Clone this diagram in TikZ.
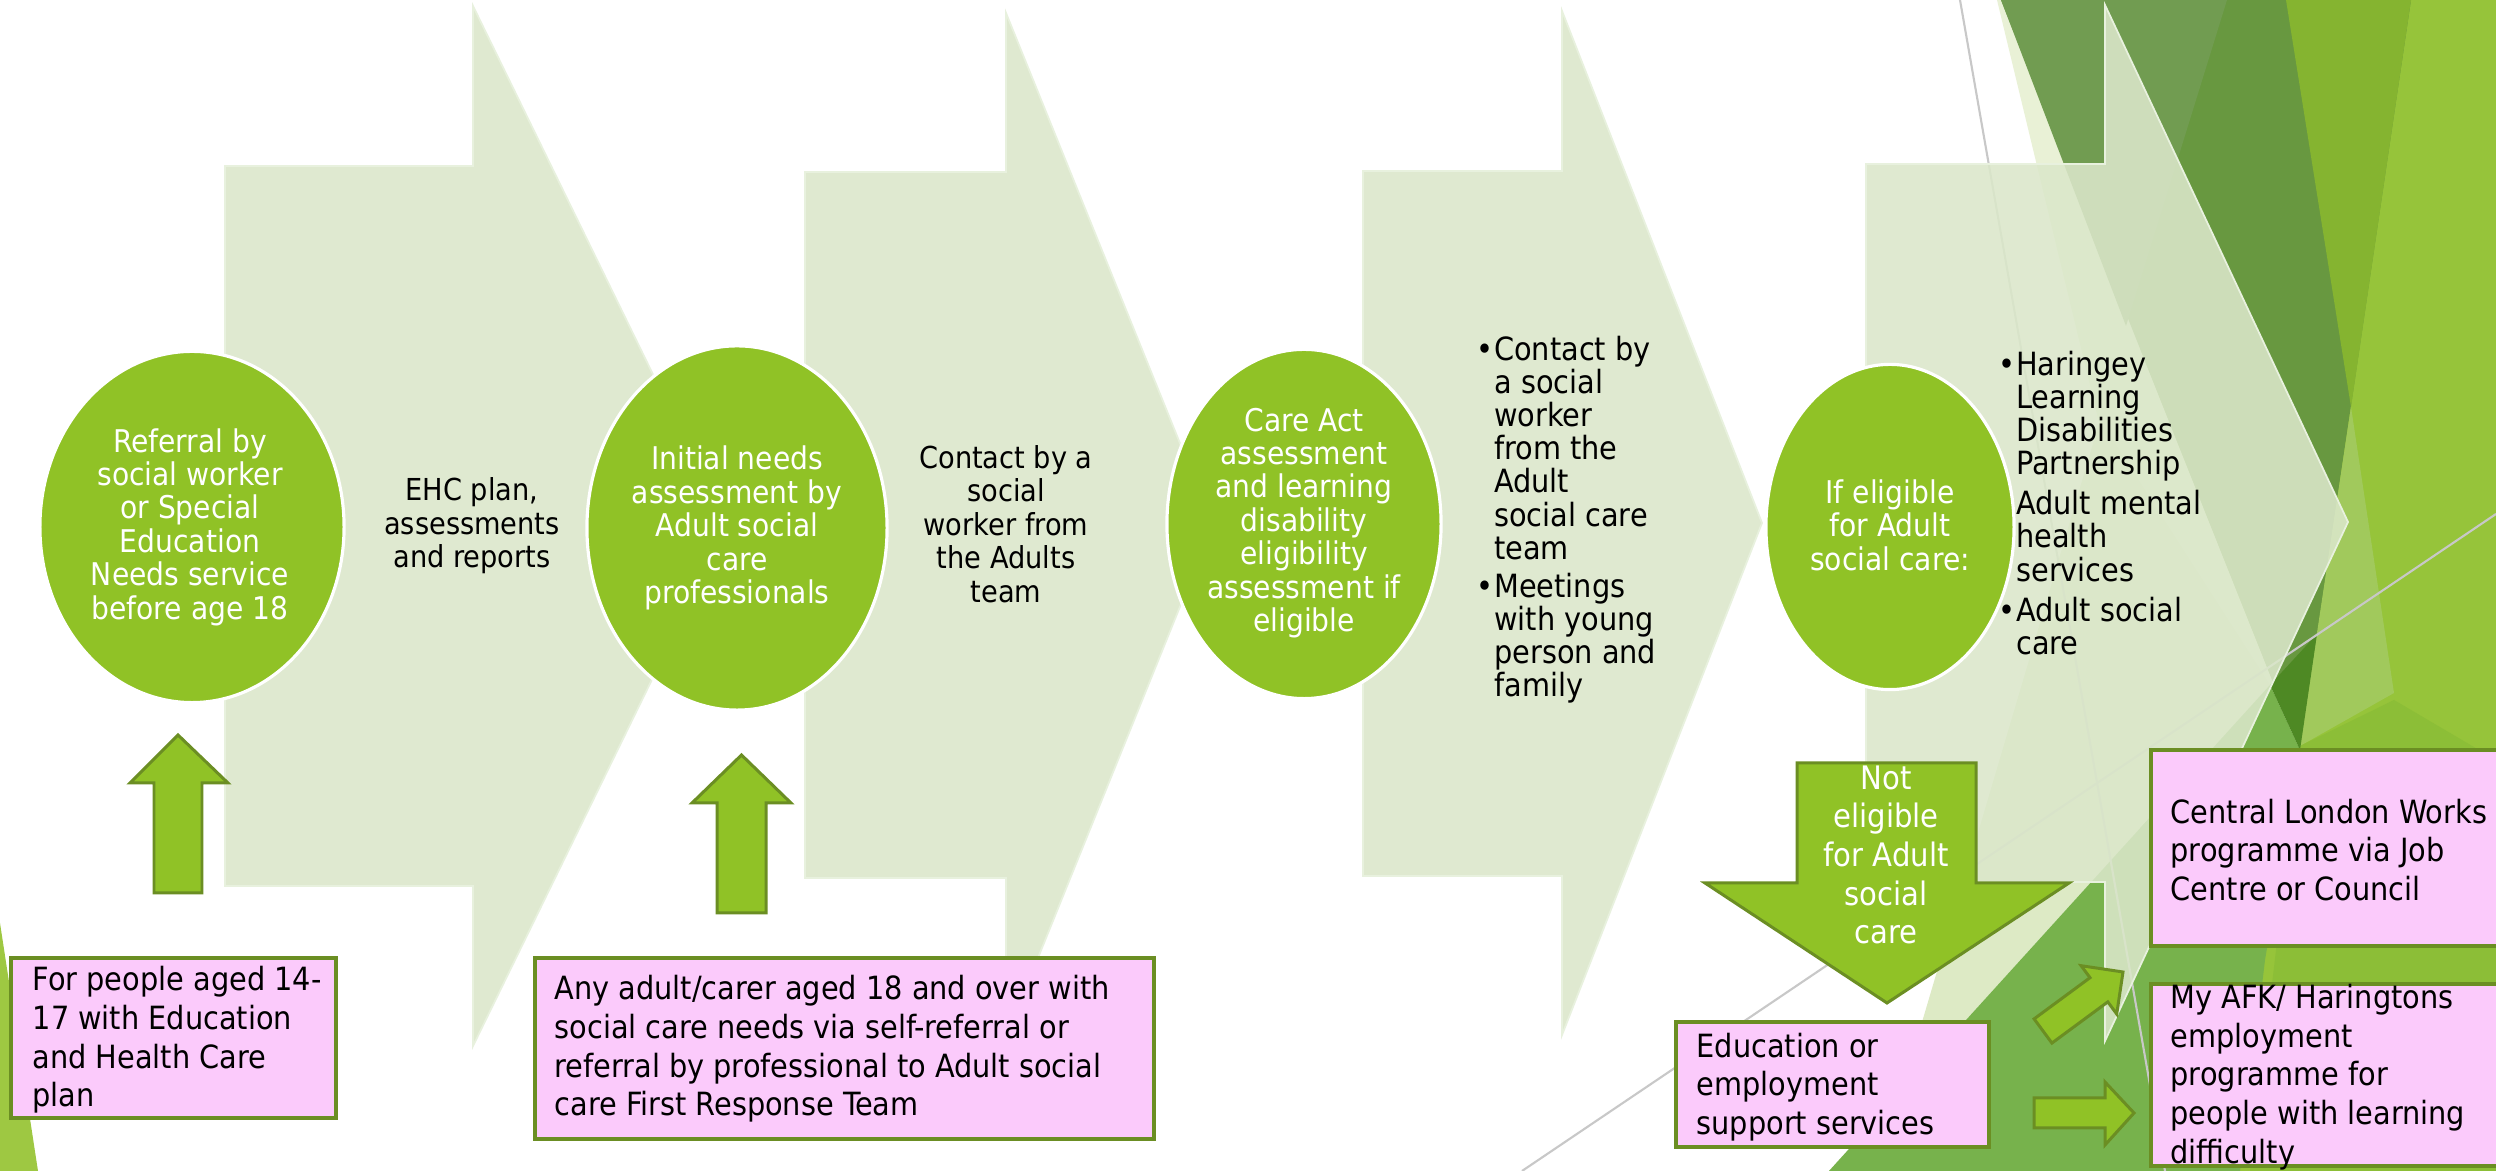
\documentclass[tikz,border=0pt]{standalone}
\usepackage{fontspec}
\setmainfont{DejaVu Sans Condensed}
\usetikzlibrary{shapes.geometric}
\definecolor{chev}{RGB}{219,231,202}
\definecolor{chevedge}{RGB}{232,241,222}
\definecolor{ellfill}{RGB}{144,194,38}
\definecolor{olive}{RGB}{107,142,35}
\definecolor{pinkfill}{RGB}{251,202,251}
\definecolor{fbright}{RGB}{150,196,58}
\definecolor{fb2}{RGB}{133,180,48}
\definecolor{fdark}{RGB}{104,152,64}
\definecolor{fmuted}{RGB}{113,156,81}
\definecolor{flight}{RGB}{161,201,92}
\definecolor{fyg}{RGB}{140,190,55}
\definecolor{fgreen}{RGB}{119,178,76}
\definecolor{fdeep}{RGB}{78,137,36}
\definecolor{fcream}{RGB}{233,241,214}
\definecolor{fpale}{RGB}{221,234,197}
\definecolor{fleft}{RGB}{158,200,66}
\definecolor{thinline}{RGB}{200,200,200}
\tikzset{
  chevron/.style={fill=chev, fill opacity=0.88, draw=chevedge, line width=0.5pt},
  ell/.style={ellipse, fill=ellfill, draw=white, line width=0.9pt, inner sep=0pt},
  ellt/.style={text=white, align=center, inner sep=0pt, font=\fontsize{8.9}{9.5}\selectfont},
  arrt/.style={text=black, align=center, inner sep=0pt, font=\fontsize{8.6}{9.5}\selectfont},
  listt/.style={text=black, align=left, inner sep=0pt, font=\fontsize{9.1}{9.4}\selectfont},
  blockarrow/.style={fill=ellfill, draw=olive, line width=0.85pt, line join=miter},
  pinkbox/.style={rectangle, fill=pinkfill, draw=olive, line width=1.1pt, inner sep=0pt},
  boxt/.style={text=black, align=left, inner sep=0pt, font=\fontsize{9.1}{11}\selectfont},
  downt/.style={text=white, align=center, inner sep=0pt, font=\fontsize{9.2}{11}\selectfont},
  thin/.style={draw=thinline, line width=0.6pt}
}
\newcommand{\bul}{\makebox[5pt][l]{\textbullet}}
\newcommand{\ind}{\hspace*{5pt}}
\begin{document}
\begin{tikzpicture}[x=0.01cm,y=-0.01cm]
\useasboundingbox (0,0) rectangle (2496,1171);
\clip (0,0) rectangle (2496,1171);
\fill[white] (0,0) rectangle (2496,1171);

% ---- background facets ----
\fill[fleft] (0,923) -- (38,1171) -- (0,1171) -- cycle;
\fill[fbright] (2140,0) -- (2496,0) -- (2496,1171) -- (2140,1171) -- cycle;
\fill[fcream] (1997,0) -- (2001,0) -- (2300,750) -- (2190,800) -- cycle;
\fill[fpale] (1878,1171) -- (2100,420) -- (2270,685) -- (1829,1171) -- cycle;
\fill[fdark] (2001,0) -- (2411,0) -- (2300,750) -- cycle;
\fill[fmuted] (2001,0) -- (2227,0) -- (2126,326) -- cycle;
\fill[fb2] (2286,0) -- (2411,0) -- (2351,407) -- cycle;
\fill[flight] (2351,407) -- (2394,693) -- (2300,746) -- cycle;
\fill[fyg] (2300,746) -- (2394,700) -- (2496,760) -- (2496,1171) -- (2250,1171) -- cycle;
\fill[fgreen] (1829,1171) -- (2270,685) -- (2300,750) -- (2265,960) -- (2240,1171) -- cycle;
\fill[fdeep] (2270,685) -- (2317,634) -- (2300,750) -- cycle;
\draw[thin] (1960,0) -- (2165,1171);
\draw[thin] (1522,1171) -- (2496,514);

% ---- chevrons ----
\path[chevron] (225,166) -- (473,166) -- (473,6) -- (727,526) -- (473,1046) -- (473,886) -- (225,886) -- cycle;
\path[chevron] (805,172) -- (1006,172) -- (1006,13) -- (1213,525) -- (1006,1037) -- (1006,878) -- (805,878) -- cycle;
\path[chevron] (1363,171) -- (1562,171) -- (1562,11) -- (1762,523) -- (1562,1035) -- (1562,876) -- (1363,876) -- cycle;
\path[chevron] (1866,164) -- (2105,164) -- (2105,5) -- (2348,522) -- (2105,1041) -- (2105,882) -- (1866,882) -- cycle;

% ---- chevron texts ----
\node[arrt] (t1) at (472,526) {EHC plan,\\assessments\\and reports};
\node[arrt] (t2) at (1006,524) {Contact by a\\social\\worker from\\the Adults\\team};
\node[listt, anchor=west] (t3) at (1476,520) {\bul Contact by\\\ind a social\\\ind worker\\\ind from the\\\ind Adult\\\ind social care\\\ind team\\[1.6pt]\bul Meetings\\\ind with young\\\ind person and\\\ind family};
\node[listt, anchor=west] (t4) at (1998,503) {\bul Haringey\\\ind Learning\\\ind Disabilities\\\ind Partnership\\[2pt]\ind Adult mental\\\ind health\\\ind services\\[2pt]\bul Adult social\\\ind care};

% ---- ellipses ----
\node[ell, minimum width=3.04cm, minimum height=3.51cm] (e1) at (192,527) {};
\node[ell, minimum width=3.00cm, minimum height=3.64cm] (e2) at (737,528) {};
\node[ell, minimum width=2.74cm, minimum height=3.49cm] (e3) at (1304,524) {};
\node[ell, minimum width=2.48cm, minimum height=3.25cm] (e4) at (1890,527) {};
\node[ellt] (e1t) at (190,527) {Referral by\\social worker\\or Special\\Education\\Needs service\\before age 18};
\node[ellt] (e2t) at (737,528) {Initial needs\\assessment by\\Adult social\\care\\professionals};
\node[ellt] (e3t) at (1304,523) {Care Act\\assessment\\and learning\\disability\\eligibility\\assessment if\\eligible};
\node[ellt] (e4t) at (1890,525) {If eligible\\for Adult\\social care:};

% ---- block arrows ----
\filldraw[blockarrow] (154,893) -- (154,783) -- (130,783) -- (178,735) -- (228,783) -- (202,783) -- (202,893) -- cycle;
\filldraw[blockarrow] (717,913) -- (717,803) -- (692,803) -- (741.5,755) -- (791,803) -- (766,803) -- (766,913) -- cycle;
\filldraw[blockarrow] (1797,763) -- (1976,763) -- (1976,883) -- (2069,883) -- (1887,1003) -- (1705,883) -- (1797,883) -- cycle;
\filldraw[blockarrow] (2034.1,1018.9) -- (2090.0,977.7) -- (2081.1,965.7) -- (2123,972) -- (2116.7,1014.0) -- (2107.8,1001.9) -- (2051.9,1043.1) -- cycle;
\filldraw[blockarrow] (2034,1098) -- (2105,1098) -- (2105,1082) -- (2134,1113) -- (2105,1145) -- (2105,1128) -- (2034,1128) -- cycle;
\node[downt] (nt) at (1886,855) {Not\\eligible\\for Adult\\social\\care};

% ---- pink boxes ----
\node[pinkbox, minimum width=3.25cm, minimum height=1.60cm] (bA) at (173.5,1038) {};
\node[pinkbox, minimum width=6.19cm, minimum height=1.81cm] (bB) at (844.5,1048.5) {};
\node[pinkbox, minimum width=3.13cm, minimum height=1.25cm] (bC) at (1832.5,1084.5) {};
\node[pinkbox, minimum width=3.59cm, minimum height=1.96cm] (bD) at (2330.5,848) {};
\node[pinkbox, minimum width=3.59cm, minimum height=1.82cm] (bE) at (2330.5,1075) {};
\node[boxt, anchor=west] (bAt) at (32,1040) {For people aged 14-\\17 with Education\\and Health Care\\plan};
\node[boxt, anchor=west] (bBt) at (554,1049) {Any adult/carer aged 18 and over with\\social care needs via self-referral or\\referral by professional to Adult social\\care First Response Team};
\node[boxt, anchor=west] (bCt) at (1696,1087) {Education or\\employment\\support services};
\node[boxt, anchor=west] (bDt) at (2170,850) {Central London Works\\programme via Job\\Centre or Council};
\node[boxt, anchor=west] (bEt) at (2170,1077) {My AFK/ Haringtons\\employment\\programme for\\people with learning\\difficulty};
\end{tikzpicture}
\end{document}
